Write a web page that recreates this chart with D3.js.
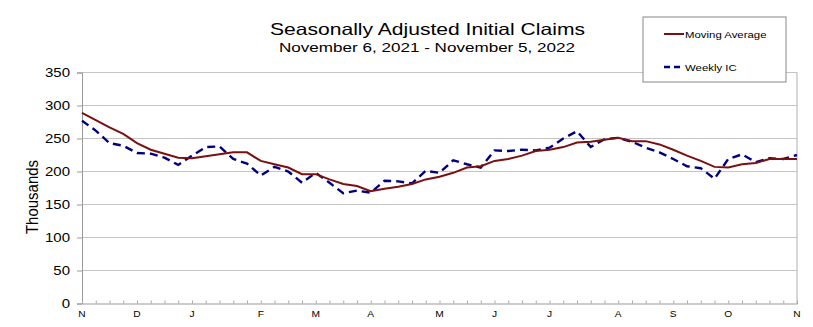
<!DOCTYPE html>
<html><head><meta charset="utf-8">
<script src="https://cdn.jsdelivr.net/npm/d3@7"></script>
<style>
body{margin:0;background:#fff}
svg{display:block}
text{font-family:"Liberation Sans",Arial,sans-serif;fill:#000}
</style>
</head><body>
<svg id="c" width="813" height="327"></svg>
<script>
// ---- data (thousands), weeks ending Nov 6, 2021 ... Nov 5, 2022 ----
const weekIndex = d3.range(53);
const weeklyIC = [277,262,243,239,228,227,221,210,224,237,238,219,212,194,207,200,183,198,183,167,
  171,168,186,185,182,201,198,217,211,206,232,231,233,232,236,250,261,237,249,251,
  245,236,229,219,208,205,189,219,226,214,220,219,225];
const movingAvg = [289,278,267,257,243,233,227,221,220,223,226,229,229,216,211,206,196,196,188,181,
  178,170,174,177,181,188,192,198,206,208,216,219,224,231,233,237,244,245,248,251,
  246,246,241,233,224,216,207,206,211,213,219,219,219];
const monthLabels = ["N","D","J","F","M","A","M","J","J","A","S","O","N"];
const monthLabelWeeks = [0,4,8,13,17,21,26,30,34,39,43,47,52];
const yTicks = [0,50,100,150,200,250,300,350];
const titleText = "Seasonally Adjusted Initial Claims";
const subtitleText = "November 6, 2021 - November 5, 2022";
const yTitle = "Thousands";
const seriesNames = ["Moving Average","Weekly IC"];

const svg = d3.select("#c");
const x = d3.scaleLinear().domain([0,52]).range([82,797]);
const y = d3.scaleLinear().domain([0,350]).range([303.5,72.5]);
const SX = 1.2;

// gridlines
svg.append("g").selectAll("line").data(yTicks.filter(d=>d>0)).join("line")
  .attr("x1",x(0)).attr("x2",x(52))
  .attr("y1",d=>y(d)).attr("y2",d=>y(d))
  .attr("stroke","#c4c4c4").attr("stroke-width",1);
// right border
svg.append("line").attr("x1",x(52)).attr("x2",x(52)).attr("y1",y(350)).attr("y2",y(0))
  .attr("stroke","#b0b0b0");

// y axis
const yAxis = svg.append("g").attr("transform",`translate(${x(0)},0)`)
  .call(d3.axisLeft(y).tickValues(yTicks).tickSize(5).tickFormat(""));
yAxis.select(".domain").attr("stroke","#999");
yAxis.selectAll(".tick line").attr("stroke","#999");
svg.append("g").selectAll("text").data(yTicks).join("text")
  .attr("text-anchor","end")
  .attr("font-size",12.5)
  .attr("transform",d=>`translate(70,${y(d)+4.5}) scale(${SX},1)`)
  .text(d=>d);

// x axis
const xAxis = svg.append("g").attr("transform",`translate(0,${y(0)})`)
  .call(d3.axisBottom(x).tickValues(weekIndex).tickSize(-3).tickFormat(""));
xAxis.select(".domain").attr("stroke","#999");
xAxis.selectAll(".tick line").attr("stroke","#aaa");
svg.append("g").selectAll("text").data(monthLabels).join("text")
  .attr("text-anchor","middle")
  .attr("font-size",8.5)
  .attr("transform",(d,i)=>`translate(${x(monthLabelWeeks[i])},317) scale(${SX},1)`)
  .text(d=>d);

// y title
svg.append("text").attr("text-anchor","middle").attr("font-size",15)
  .attr("transform","translate(38,197) scale(1.15,1) rotate(-90)")
  .text(yTitle);

// titles
svg.append("text").attr("x",270).attr("y",35).attr("font-size",16.5)
  .attr("textLength",315).attr("lengthAdjust","spacingAndGlyphs").text(titleText);
svg.append("text").attr("x",279).attr("y",52).attr("font-size",13)
  .attr("textLength",296).attr("lengthAdjust","spacingAndGlyphs").text(subtitleText);

// lines
const line = d3.line().x((d,i)=>x(i)).y(d=>y(d));
svg.append("path").datum(weeklyIC).attr("d",line).attr("fill","none")
  .attr("stroke","#000080").attr("stroke-width",2.4).attr("stroke-dasharray","8,5");
svg.append("path").datum(movingAvg).attr("d",line).attr("fill","none")
  .attr("stroke","#7a1010").attr("stroke-width",2);

// legend
const lg = svg.append("g");
lg.append("rect").attr("x",643).attr("y",17).attr("width",143).attr("height",65)
  .attr("fill","#fff").attr("stroke","#888").attr("stroke-width",1);
const legendY = [34,67];
const legendStyle = [{c:"#7a1010",w:2,dash:null},{c:"#000080",w:2.4,dash:"6,4"}];
seriesNames.forEach((n,i)=>{
  lg.append("line").attr("x1",664).attr("x2",684).attr("y1",legendY[i]).attr("y2",legendY[i])
    .attr("stroke",legendStyle[i].c).attr("stroke-width",legendStyle[i].w)
    .attr("stroke-dasharray",legendStyle[i].dash);
  lg.append("text").attr("font-size",9.5)
    .attr("transform",`translate(685,${legendY[i]+3.5}) scale(${SX},1)`).text(n);
});
</script>
</body></html>
